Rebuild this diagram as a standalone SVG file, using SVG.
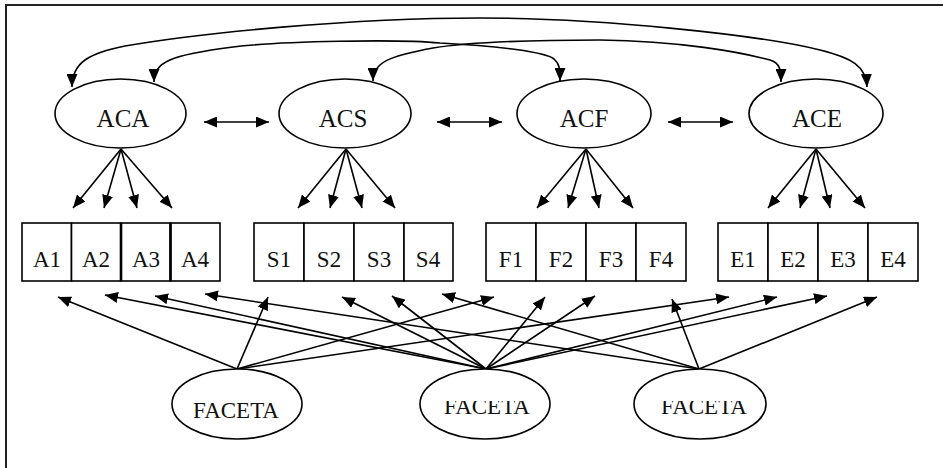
<svg xmlns="http://www.w3.org/2000/svg" width="943" height="468" viewBox="0 0 943 468">
  <style>
    .frame { stroke: #222; stroke-width: 2; fill: none; }
    .node ellipse { fill: #fff; stroke: #000; stroke-width: 1.6; }
    .node rect { fill: #fff; stroke: #000; stroke-width: 1.6; }
    .lbl { font-family: "Liberation Serif", "Times New Roman", serif; fill: #111; text-anchor: middle; }
    .big { font-size: 25px; }
    .small { font-size: 23px; }
    .edge { fill: none; stroke: #000; stroke-width: 1.6; }
    .arr { marker-end: url(#ah); }
    .both { marker-start: url(#ah); marker-end: url(#ah); }
  </style>
  <defs>
    <marker id="ah" viewBox="0 0 13 11" refX="13" refY="5.5" markerWidth="13" markerHeight="11" markerUnits="userSpaceOnUse" orient="auto-start-reverse">
      <path d="M0,0 L13,5.5 L0,11 z" fill="#000"/>
    </marker>
    <clipPath id="cutTop">
      <rect x="0" y="401" width="943" height="67"/>
    </clipPath>
  </defs>

  <!-- frame: top and left rules only -->
  <path class="frame" d="M6,468 L6,5 L943,5"/>

  <!-- connectors -->
  <g id="connectors">
    <!-- curved correlations over the top -->
    <path class="edge both" d="M72,87 C72,62 90,53 125,46 C 200,33 350,18 480,18 C 600,18 760,35 820,50 C 852,58 866,66 867,87"/>
    <path class="edge both" d="M154,82 C154,62 170,55 233,47 C 280,41 400,39 440,43 C 500,46 545,52 554,59 C 560,64 560,70 560,81"/>
    <path class="edge both" d="M373,81 C373,62 390,56 433,48 C 470,42 520,40 600,40 C 680,41 740,52 770,60 C 780,63 781,70 781,82"/>

    <!-- correlations between neighbouring factors -->
    <line class="edge both" x1="204" y1="122" x2="269" y2="122"/>
    <line class="edge both" x1="437" y1="122" x2="502" y2="122"/>
    <line class="edge both" x1="668" y1="122" x2="733" y2="122"/>

    <!-- loadings of ACA -->
    <line class="edge arr" x1="121" y1="149" x2="73" y2="208"/>
    <line class="edge arr" x1="121" y1="149" x2="104" y2="208"/>
    <line class="edge arr" x1="121" y1="149" x2="137" y2="208"/>
    <line class="edge arr" x1="121" y1="149" x2="172" y2="208"/>
    <!-- loadings of ACS -->
    <line class="edge arr" x1="346" y1="149" x2="298" y2="208"/>
    <line class="edge arr" x1="346" y1="149" x2="330" y2="208"/>
    <line class="edge arr" x1="346" y1="149" x2="362" y2="208"/>
    <line class="edge arr" x1="346" y1="149" x2="395" y2="208"/>
    <!-- loadings of ACF -->
    <line class="edge arr" x1="586" y1="149" x2="537" y2="208"/>
    <line class="edge arr" x1="586" y1="149" x2="568" y2="208"/>
    <line class="edge arr" x1="586" y1="149" x2="599" y2="208"/>
    <line class="edge arr" x1="586" y1="149" x2="633" y2="208"/>
    <!-- loadings of ACE -->
    <line class="edge arr" x1="816" y1="149" x2="768" y2="208"/>
    <line class="edge arr" x1="816" y1="149" x2="800" y2="208"/>
    <line class="edge arr" x1="816" y1="149" x2="830" y2="208"/>
    <line class="edge arr" x1="816" y1="149" x2="865" y2="208"/>

    <!-- method factor 1 -->
    <line class="edge arr" x1="237" y1="369" x2="58" y2="297"/>
    <line class="edge arr" x1="237" y1="369" x2="268" y2="297"/>
    <line class="edge arr" x1="237" y1="369" x2="494" y2="297"/>
    <line class="edge arr" x1="237" y1="369" x2="729" y2="297"/>
    <!-- method factor 2 -->
    <line class="edge arr" x1="486" y1="369" x2="105" y2="295"/>
    <line class="edge arr" x1="486" y1="369" x2="155" y2="296"/>
    <line class="edge arr" x1="486" y1="369" x2="342" y2="297"/>
    <line class="edge arr" x1="486" y1="369" x2="392" y2="296"/>
    <line class="edge arr" x1="486" y1="369" x2="545" y2="297"/>
    <line class="edge arr" x1="486" y1="369" x2="595" y2="296"/>
    <line class="edge arr" x1="486" y1="369" x2="777" y2="297"/>
    <line class="edge arr" x1="486" y1="369" x2="827" y2="296"/>
    <!-- method factor 3 -->
    <line class="edge arr" x1="699" y1="369" x2="205" y2="294"/>
    <line class="edge arr" x1="699" y1="369" x2="442" y2="294"/>
    <line class="edge arr" x1="699" y1="369" x2="672" y2="299"/>
    <line class="edge arr" x1="699" y1="369" x2="877" y2="297"/>
  </g>

  <!-- trait factors -->
  <g id="ACA" class="node"><ellipse cx="120.5" cy="113.5" rx="65.5" ry="34.5"/><text class="lbl big" x="123" y="127">ACA</text></g>
  <g id="ACS" class="node"><ellipse cx="345" cy="113.5" rx="66" ry="34.5"/><text class="lbl big" x="343" y="127">ACS</text></g>
  <g id="ACF" class="node"><ellipse cx="584" cy="113.5" rx="67" ry="34.5"/><text class="lbl big" x="584" y="127">ACF</text></g>
  <g id="ACE" class="node"><ellipse cx="816" cy="113.5" rx="67" ry="34.5"/><text class="lbl big" x="817" y="127">ACE</text></g>

  <!-- indicators -->
  <g id="A1" class="node"><rect x="22" y="223" width="49.5" height="58"/><text class="lbl small" x="47" y="267">A1</text></g>
  <g id="A2" class="node"><rect x="71.5" y="223" width="49.5" height="58"/><text class="lbl small" x="96" y="267">A2</text></g>
  <g id="A3" class="node"><rect x="121" y="223" width="49.5" height="58"/><text class="lbl small" x="146" y="267">A3</text></g>
  <g id="A4" class="node"><rect x="170.5" y="223" width="49.5" height="58"/><text class="lbl small" x="195" y="267">A4</text></g>
  <path d="M121,223 V281 M170.5,223 V281" stroke="#000" stroke-width="2.6"/>

  <g id="S1" class="node"><rect x="254" y="223" width="50" height="58"/><text class="lbl small" x="279" y="267">S1</text></g>
  <g id="S2" class="node"><rect x="304" y="223" width="50" height="58"/><text class="lbl small" x="329" y="267">S2</text></g>
  <g id="S3" class="node"><rect x="354" y="223" width="50" height="58"/><text class="lbl small" x="379" y="267">S3</text></g>
  <g id="S4" class="node"><rect x="404" y="223" width="49" height="58"/><text class="lbl small" x="428" y="267">S4</text></g>

  <g id="F1" class="node"><rect x="486" y="223" width="50" height="58"/><text class="lbl small" x="511" y="267">F1</text></g>
  <g id="F2" class="node"><rect x="536" y="223" width="50" height="58"/><text class="lbl small" x="561" y="267">F2</text></g>
  <g id="F3" class="node"><rect x="586" y="223" width="50" height="58"/><text class="lbl small" x="611" y="267">F3</text></g>
  <g id="F4" class="node"><rect x="636" y="223" width="50" height="58"/><text class="lbl small" x="661" y="267">F4</text></g>

  <g id="E1" class="node"><rect x="718" y="223" width="50" height="58"/><text class="lbl small" x="743" y="267">E1</text></g>
  <g id="E2" class="node"><rect x="768" y="223" width="50" height="58"/><text class="lbl small" x="793" y="267">E2</text></g>
  <g id="E3" class="node"><rect x="818" y="223" width="50" height="58"/><text class="lbl small" x="843" y="267">E3</text></g>
  <g id="E4" class="node"><rect x="868" y="223" width="50" height="58"/><text class="lbl small" x="893" y="267">E4</text></g>

  <!-- method factors -->
  <g id="FACETA1" class="node"><ellipse cx="237" cy="404" rx="65" ry="35"/><text class="lbl small" x="236" y="418">FACETA</text></g>
  <g id="FACETA2" class="node"><ellipse cx="485" cy="404" rx="65" ry="35"/><text class="lbl small" x="487" y="414" clip-path="url(#cutTop)">FACETA</text></g>
  <g id="FACETA3" class="node"><ellipse cx="700" cy="404" rx="66" ry="35"/><text class="lbl small" x="704" y="414" clip-path="url(#cutTop)">FACETA</text></g>
</svg>
